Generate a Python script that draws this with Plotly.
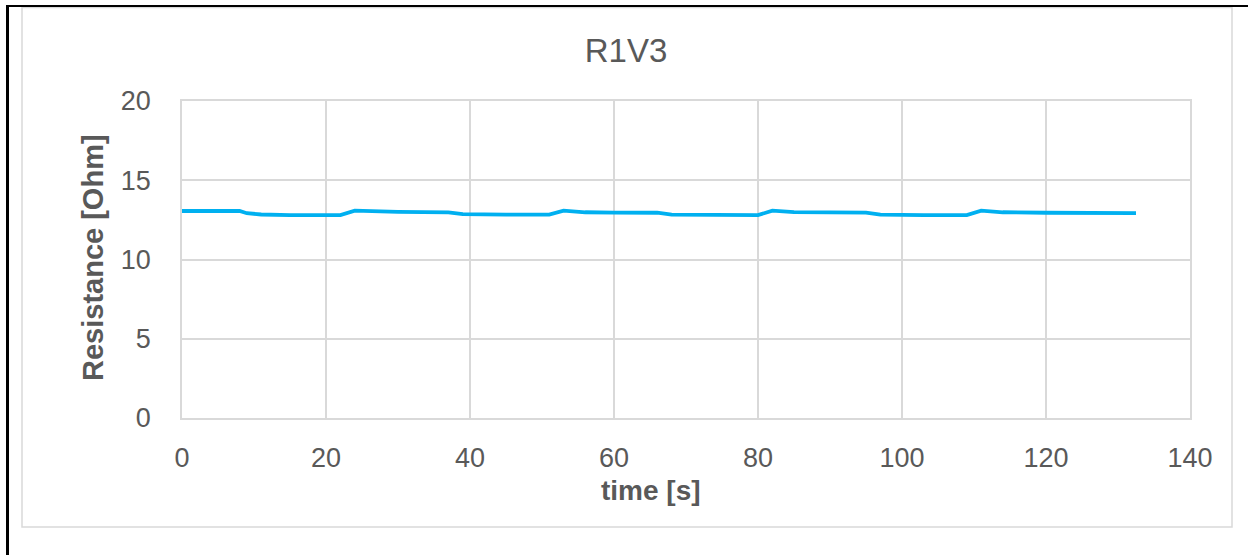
import plotly.graph_objects as go

# Data
time_s = [0, 8, 9, 11, 15, 22, 24, 30, 37, 39, 45, 51, 53, 56, 60, 66, 68, 75, 80, 82,
          85, 95, 97, 103, 109, 111, 114, 120, 132.5]
resistance = [13.06, 13.06, 12.92, 12.84, 12.8, 12.8, 13.08, 13.0, 12.97, 12.86, 12.83, 12.83,
              13.08, 12.98, 12.96, 12.95, 12.83, 12.8, 12.8, 13.08,
              12.99, 12.96, 12.83, 12.8, 12.8, 13.08, 12.98, 12.95, 12.93]
x_ticks = [0, 20, 40, 60, 80, 100, 120, 140]
y_ticks = [0, 5, 10, 15, 20]

W, H = 1248, 555
L, R, T, B = 182, 1190, 101, 418
pw, ph = R - L, B - T


def px(x):
    return (x - L) / pw


def py(y):
    return (B - y) / ph


GRID = "#d9d9d9"
TXT = "#595959"
FONT = "Liberation Sans, Arial, sans-serif"

fig = go.Figure()
fig.add_trace(go.Scatter(x=time_s, y=resistance, mode="lines",
                         line=dict(color="#00b0f0", width=3.8), showlegend=False))

shapes = [
    # inner chart-area border
    dict(type="rect", xref="paper", yref="paper", x0=px(22), x1=px(1232), y0=py(527), y1=py(7.5),
         line=dict(color=GRID, width=1.5), fillcolor="rgba(0,0,0,0)", layer="below"),
    # black outer frame lines
    dict(type="line", xref="paper", yref="paper", x0=px(6), x1=px(1248), y0=py(6), y1=py(6),
         line=dict(color="black", width=2)),
    dict(type="line", xref="paper", yref="paper", x0=px(7.5), x1=px(7.5), y0=py(5), y1=py(556),
         line=dict(color="black", width=3)),
]

annotations = [
    dict(text="<b>time [s]</b>", xref="paper", yref="paper", x=px(651), y=py(490),
         xanchor="center", yanchor="middle", showarrow=False,
         font=dict(size=28, color=TXT, family=FONT)),
    dict(text="<b>Resistance [Ohm]</b>", xref="paper", yref="paper", x=px(93), y=py(258),
         xanchor="center", yanchor="middle", showarrow=False, textangle=-90,
         font=dict(size=29, color=TXT, family=FONT)),
]

fig.update_layout(
    width=W, height=H,
    margin=dict(l=L, r=W - R, t=T, b=H - B),
    paper_bgcolor="white", plot_bgcolor="white",
    font=dict(family=FONT, color=TXT),
    title=dict(text="R1V3", x=626 / W, xref="container", xanchor="center", y=1 - 50 / H,
               yref="container", yanchor="middle",
               font=dict(size=33, color=TXT, family=FONT)),
    shapes=shapes,
    annotations=annotations,
    xaxis=dict(range=[0, 140], tickvals=x_ticks, showgrid=True, gridcolor=GRID, gridwidth=1.5,
               zeroline=False, showline=True, linecolor=GRID, linewidth=1.5, mirror=True,
               tickfont=dict(size=27, color=TXT), ticks="", ticklabelstandoff=15),
    yaxis=dict(range=[0, 20], tickvals=y_ticks, showgrid=True, gridcolor=GRID, gridwidth=1.5,
               zeroline=False, showline=True, linecolor=GRID, linewidth=1.5, mirror=True,
               tickfont=dict(size=27, color=TXT), ticks="", ticklabelstandoff=24),
)

fig.write_html("out.html")
